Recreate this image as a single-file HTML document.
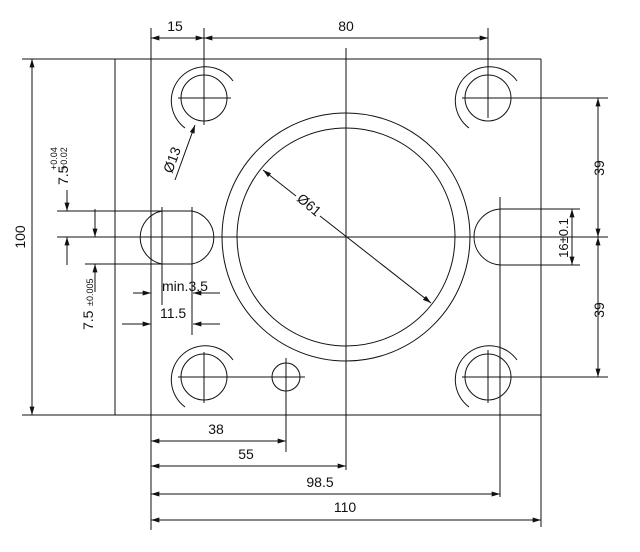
<!DOCTYPE html>
<html><head><meta charset="utf-8"><style>body{margin:0;background:#fff}svg{display:block}text{font-family:"Liberation Sans",sans-serif;font-size:14px;fill:#111}</style></head><body>
<svg width="640" height="552" viewBox="0 0 640 552" xmlns="http://www.w3.org/2000/svg">
<defs><marker id="a" viewBox="0 0 10 6" refX="10" refY="3" markerWidth="12" markerHeight="5" orient="auto-start-reverse" markerUnits="userSpaceOnUse"><path d="M0,0L10,3L0,6z" fill="#111"/></marker></defs>
<g stroke="#111" stroke-width="1" fill="none">
<!-- plate -->
<line x1="22" y1="59" x2="541" y2="59"/><line x1="22" y1="415" x2="541" y2="415"/>
<line x1="115" y1="59" x2="115" y2="415"/><line x1="541" y1="59" x2="541" y2="527"/>
<line x1="151" y1="28" x2="151" y2="530"/>
<!-- holes -->
<g id="h"><circle cx="204" cy="98" r="23"/><path d="M233,81 A34,34 0 1 0 185,128"/><line x1="178" y1="98" x2="231" y2="98"/><line x1="204" y1="28" x2="204" y2="125"/></g>
<circle cx="488" cy="98" r="23"/><path d="M517,81 A34,34 0 1 0 469,128"/><line x1="462" y1="98" x2="608" y2="98"/><line x1="488" y1="28" x2="488" y2="118"/>
<circle cx="204" cy="377" r="23"/><path d="M233,360 A34,34 0 1 0 185,407"/><line x1="178" y1="377" x2="305" y2="377"/><line x1="204" y1="352" x2="204" y2="403"/>
<circle cx="488" cy="377" r="23"/><path d="M517,360 A34,34 0 1 0 469,407"/><line x1="462" y1="377" x2="608" y2="377"/><line x1="488" y1="350" x2="488" y2="403"/>
<circle cx="286" cy="377" r="14"/><line x1="286" y1="358" x2="286" y2="452"/>
<!-- big circle -->
<circle cx="346" cy="237" r="124"/><circle cx="346" cy="237" r="109"/>
<line x1="346" y1="48" x2="346" y2="470"/><line x1="57" y1="237" x2="608" y2="237"/>
<!-- slots -->
<path d="M162,211 A27,27 0 0 0 162,264 L192,264 A27,27 0 0 0 192,211 Z"/>
<line x1="162" y1="207" x2="162" y2="305"/><line x1="192" y1="207" x2="192" y2="335"/>
<line x1="57" y1="211" x2="162" y2="211"/><line x1="85" y1="264" x2="162" y2="264"/>
<path d="M580,209 L502,209 A28,28 0 0 0 502,265 L580,265"/>
<line x1="500" y1="197" x2="500" y2="497"/>
<!-- top dims -->
<line x1="151" y1="38" x2="204" y2="38" marker-start="url(#a)" marker-end="url(#a)"/>
<line x1="204" y1="38" x2="488" y2="38" marker-start="url(#a)" marker-end="url(#a)"/>
<!-- 100 -->
<line x1="32" y1="59" x2="32" y2="415" marker-start="url(#a)" marker-end="url(#a)"/>
<!-- 7.5 dims -->
<line x1="67" y1="190" x2="67" y2="211" marker-end="url(#a)"/>
<line x1="95" y1="209" x2="95" y2="237" marker-end="url(#a)"/>
<line x1="67" y1="265" x2="67" y2="237" marker-end="url(#a)"/>
<line x1="95" y1="292" x2="95" y2="264" marker-end="url(#a)"/>
<!-- min3.5 / 11.5 -->
<line x1="133" y1="293" x2="151" y2="293" marker-end="url(#a)"/>
<line x1="220" y1="293" x2="193" y2="293" marker-end="url(#a)"/>
<line x1="122" y1="324" x2="151" y2="324" marker-end="url(#a)"/>
<line x1="220" y1="324" x2="193" y2="324" marker-end="url(#a)"/>
<!-- right dims -->
<line x1="598" y1="98" x2="598" y2="237" marker-start="url(#a)" marker-end="url(#a)"/>
<line x1="598" y1="237" x2="598" y2="377" marker-start="url(#a)" marker-end="url(#a)"/>
<line x1="591" y1="237" x2="607" y2="237"/><line x1="598" y1="231" x2="598" y2="243"/>
<line x1="572" y1="209" x2="572" y2="265" marker-start="url(#a)" marker-end="url(#a)"/>
<!-- bottom dims -->
<line x1="151" y1="441" x2="286" y2="441" marker-start="url(#a)" marker-end="url(#a)"/>
<line x1="151" y1="466" x2="346" y2="466" marker-start="url(#a)" marker-end="url(#a)"/>
<line x1="151" y1="494" x2="500" y2="494" marker-start="url(#a)" marker-end="url(#a)"/>
<line x1="151" y1="520" x2="541" y2="520" marker-start="url(#a)" marker-end="url(#a)"/>
<!-- leaders -->
<line x1="175" y1="180" x2="195" y2="125" marker-end="url(#a)"/>
<line x1="296" y1="196" x2="263" y2="170" marker-end="url(#a)"/>
<line x1="320" y1="216" x2="431" y2="303" marker-end="url(#a)"/>
</g>
<g>
<text x="175" y="31" text-anchor="middle">15</text>
<text x="346" y="31" text-anchor="middle">80</text>
<text transform="translate(25,237) rotate(-90)" text-anchor="middle">100</text>
<text transform="translate(68,185) rotate(-90)" text-anchor="start">7.5</text>
<text transform="translate(57,170) rotate(-90)" style="font-size:9px">+0.04</text>
<text transform="translate(67,170) rotate(-90)" style="font-size:9px">+0.02</text>
<text transform="translate(93,330) rotate(-90)">7.5</text>
<text transform="translate(93,306) rotate(-90)" style="font-size:9px">±0.005</text>
<text x="162" y="291">min.3.5</text>
<text x="160" y="318">11.5</text>
<text transform="translate(172,174) rotate(-70)">Ø13</text>
<text transform="translate(296,200) rotate(40)">Ø61</text>
<text transform="translate(604,168) rotate(-90)" text-anchor="middle">39</text>
<text transform="translate(604,310) rotate(-90)" text-anchor="middle">39</text>
<text transform="translate(568,238) rotate(-90)" text-anchor="middle" style="font-size:13px">16±0.1</text>
<text x="216" y="434" text-anchor="middle">38</text>
<text x="246" y="459" text-anchor="middle">55</text>
<text x="320" y="487" text-anchor="middle">98.5</text>
<text x="345" y="512" text-anchor="middle">110</text>
</g>
</svg>
</body></html>
